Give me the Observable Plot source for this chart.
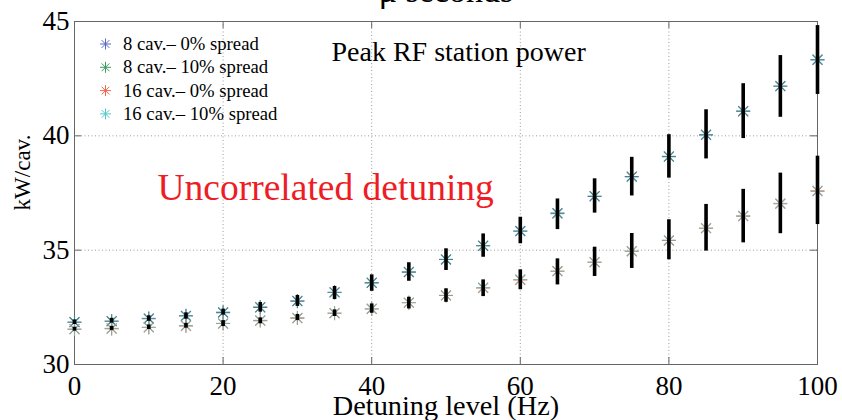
<!DOCTYPE html>
<html>
<head>
<meta charset="utf-8">
<script src="https://cdn.jsdelivr.net/npm/d3@7"></script>
<script src="https://cdn.jsdelivr.net/npm/@observablehq/plot@0.6"></script>
<style>
  html, body { margin: 0; padding: 0; background: #fff; }
  #chart { width: 842px; height: 420px; overflow: hidden; }
</style>
</head>
<body>
<div id="chart"></div>
<script>
// ---- data ----
const detuning = [0, 5, 10, 15, 20, 25, 30, 35, 40, 45, 50, 55, 60, 65, 70, 75, 80, 85, 90, 95, 100];

const cav8_spread0  = [31.85, 31.89, 32.00, 32.13, 32.27, 32.50, 32.77, 33.16, 33.57, 34.04, 34.59, 35.19, 35.83, 36.62, 37.35, 38.22, 39.09, 40.04, 41.08, 42.17, 43.32];
const cav8_spread10 = [31.86, 31.90, 32.02, 32.12, 32.29, 32.51, 32.78, 33.15, 33.58, 34.05, 34.60, 35.20, 35.85, 36.60, 37.37, 38.20, 39.10, 40.05, 41.07, 42.18, 43.34];
const cav16_spread0  = [31.54, 31.57, 31.63, 31.69, 31.79, 31.92, 32.03, 32.24, 32.43, 32.70, 33.02, 33.35, 33.70, 34.08, 34.47, 34.95, 35.42, 35.96, 36.49, 37.03, 37.58];
const cav16_spread10 = [31.55, 31.58, 31.62, 31.70, 31.80, 31.93, 32.04, 32.25, 32.44, 32.71, 33.03, 33.36, 33.72, 34.09, 34.48, 34.96, 35.44, 35.97, 36.50, 37.05, 37.60];

// error bar extents
const cav8_low   = [31.75, 31.81, 31.89, 31.98, 32.16, 32.29, 32.54, 32.84, 33.20, 33.64, 34.11, 34.69, 35.28, 35.90, 36.62, 37.37, 38.15, 38.99, 39.88, 40.81, 41.81];
const cav8_high  = [31.95, 32.02, 32.13, 32.26, 32.42, 32.71, 33.02, 33.41, 33.92, 34.45, 35.06, 35.71, 36.44, 37.24, 38.12, 39.06, 40.05, 41.14, 42.28, 43.51, 44.82];
const cav16_low  = [31.46, 31.49, 31.53, 31.59, 31.66, 31.78, 31.92, 32.10, 32.24, 32.43, 32.72, 32.97, 33.27, 33.48, 33.85, 34.20, 34.58, 34.96, 35.32, 35.72, 36.12];
const cav16_high = [31.63, 31.67, 31.73, 31.80, 31.92, 32.04, 32.19, 32.39, 32.65, 32.94, 33.31, 33.70, 34.14, 34.62, 35.13, 35.73, 36.33, 37.00, 37.66, 38.37, 39.11];

const seriesNames = ["8 cav.\u2013 0% spread", "8 cav.\u2013 10% spread", "16 cav.\u2013 0% spread", "16 cav.\u2013 10% spread"];
const xTicks = [0, 20, 40, 60, 80, 100];
const yTicks = [30, 35, 40, 45];
const xGrid = [20, 40, 60, 80];
const yGrid = [35, 40];

const titleText = "\u03bc seconds";
const annotation = "Peak RF station power";
const redNote = "Uncorrelated detuning";
const xLabel = "Detuning level (Hz)";
const yLabel = "kW/cav.";

// ---- style ----
const colors = ["#5868c8", "#3f9a62", "#f0674c", "#55c8c8"];
const serif = "'Liberation Serif', 'Times New Roman', serif";
const W = 842, H = 420, mL = 74, mR = 25, mT = 21, mB = 56;
const plotW = W - mL - mR, plotH = H - mT - mB;
const tickLen = 7;

// MATLAB-like '*' marker: plus + cross
const asterisk = {
  draw(context, size) {
    const r = Math.sqrt(size / Math.PI);
    const d = r * Math.SQRT1_2;
    context.moveTo(-r, 0); context.lineTo(r, 0);
    context.moveTo(0, -r); context.lineTo(0, r);
    context.moveTo(-d, -d); context.lineTo(d, d);
    context.moveTo(-d, d); context.lineTo(d, -d);
  }
};

const rows = detuning.map((x, i) => ({
  x,
  b: cav8_spread0[i], g: cav8_spread10[i],
  r: cav16_spread0[i], c: cav16_spread10[i],
  lo8: cav8_low[i], hi8: cav8_high[i],
  lo16: cav16_low[i], hi16: cav16_high[i]
}));
const seriesKeys = ["b", "g", "r", "c"];

const legendMarks = seriesNames.flatMap((name, i) => [
  Plot.dot([name], {frameAnchor: "top-left", dx: 31, dy: 22.5 + 23.3 * i, symbol: asterisk, r: 5.5,
    stroke: colors[i], fill: "none", strokeWidth: 1}),
  Plot.text([name], {frameAnchor: "top-left", dx: 48.5, dy: 22.5 + 23.3 * i, textAnchor: "start",
    lineAnchor: "middle", fontSize: 18.7, fill: "black"})
]);

const chart = Plot.plot({
  width: W, height: H,
  marginLeft: mL, marginRight: mR, marginTop: mT, marginBottom: mB,
  style: {fontFamily: serif, background: "white", color: "black", overflow: "hidden"},
  x: {domain: [0, 100]},
  y: {domain: [30, 45]},
  marks: [
    Plot.gridX(xGrid, {stroke: "#9a9a9a", strokeOpacity: 1, strokeDasharray: "1,2.5"}),
    Plot.gridY(yGrid, {stroke: "#9a9a9a", strokeOpacity: 1, strokeDasharray: "1,2.5"}),
    Plot.frame({stroke: "#666"}),
    // inward ticks on all four sides
    Plot.tickX(xTicks, {x: d => d, insetTop: plotH - tickLen, stroke: "#666"}),
    Plot.tickX(xTicks, {x: d => d, insetBottom: plotH - tickLen, stroke: "#666"}),
    Plot.tickY(yTicks, {y: d => d, insetRight: plotW - tickLen, stroke: "#666"}),
    Plot.tickY(yTicks, {y: d => d, insetLeft: plotW - tickLen, stroke: "#666"}),
    Plot.axisX(xTicks, {tickSize: 0, tickPadding: 11, fontSize: 27, label: null, fill: "black"}),
    Plot.axisY(yTicks, {tickSize: 0, tickPadding: 5, fontSize: 27, label: null, fill: "black"}),
    // series markers
    ...seriesKeys.map((k, i) => Plot.dot(rows, {x: "x", y: k, symbol: asterisk, r: 7,
      stroke: colors[i], fill: "none", strokeWidth: 1.1, strokeOpacity: i % 2 ? 0.7 : 1})),
    // error bars
    Plot.ruleX(rows, {x: "x", y1: "lo8", y2: "hi8", stroke: "black", strokeWidth: 3.6}),
    Plot.ruleX(rows, {x: "x", y1: "lo16", y2: "hi16", stroke: "black", strokeWidth: 3.6}),
    // legend
    ...legendMarks,
    // texts
    Plot.text([annotation], {frameAnchor: "top-left", dx: 257, dy: 39, textAnchor: "start",
      lineAnchor: "bottom", fontSize: 28, fill: "black"}),
    Plot.text([redNote], {frameAnchor: "top-left", dx: 83, dy: 178, textAnchor: "start",
      lineAnchor: "bottom", fontSize: 37.5, fill: "#ee1c25"}),
    Plot.text([xLabel], {frameAnchor: "bottom", dy: 41, lineAnchor: "middle", fontSize: 28.3, fill: "black"}),
    Plot.text([titleText], {frameAnchor: "top", dy: -19.5, lineAnchor: "bottom", fontSize: 34, fill: "black"})
  ]
});

// rotated y-axis label
d3.select(chart).append("text")
  .attr("transform", `translate(23,${mT + plotH / 2 - 20}) rotate(-90)`)
  .attr("text-anchor", "middle")
  .attr("dy", "0.32em")
  .attr("font-size", 23)
  .attr("font-family", serif)
  .attr("fill", "black")
  .text(yLabel);

document.getElementById("chart").appendChild(chart);
</script>
</body>
</html>
